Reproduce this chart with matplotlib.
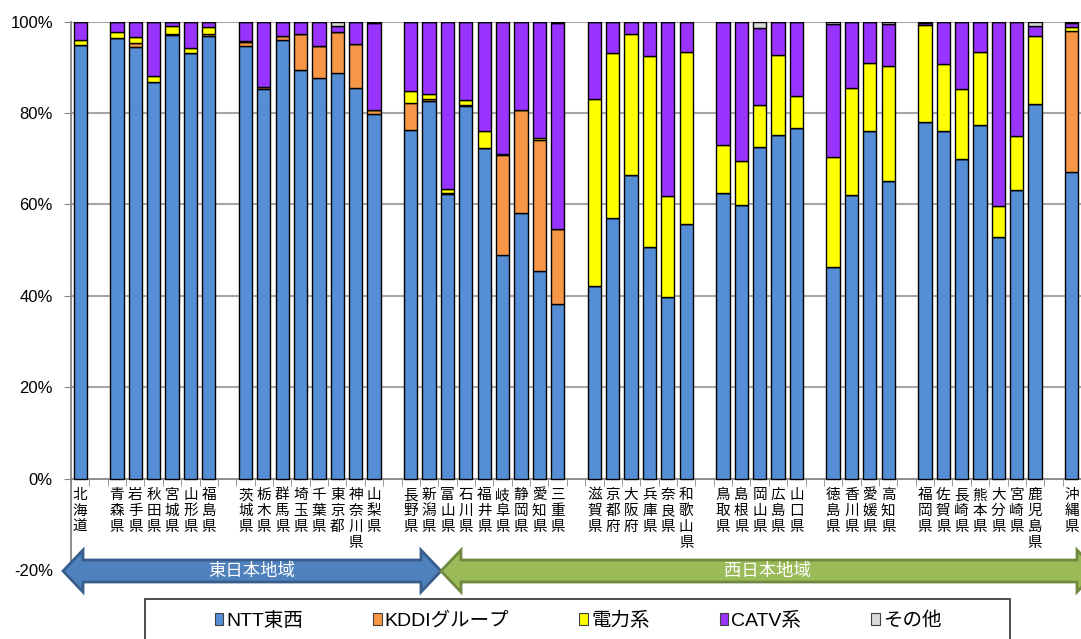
import matplotlib
matplotlib.use("Agg")
import matplotlib.pyplot as plt
import numpy as np
from matplotlib.patches import Patch, Polygon, Rectangle

plt.rcParams['font.family'] = ['Liberation Sans', 'Noto Sans CJK JP', 'DejaVu Sans']

# prefectures, grouped by region (a blank slot separates each group)
groups = [
    ['北海道'],
    ['青森県', '岩手県', '秋田県', '宮城県', '山形県', '福島県'],
    ['茨城県', '栃木県', '群馬県', '埼玉県', '千葉県', '東京都', '神奈川県', '山梨県'],
    ['長野県', '新潟県', '富山県', '石川県', '福井県', '岐阜県', '静岡県', '愛知県', '三重県'],
    ['滋賀県', '京都府', '大阪府', '兵庫県', '奈良県', '和歌山県'],
    ['鳥取県', '島根県', '岡山県', '広島県', '山口県'],
    ['徳島県', '香川県', '愛媛県', '高知県'],
    ['福岡県', '佐賀県', '長崎県', '熊本県', '大分県', '宮崎県', '鹿児島県'],
    ['沖縄県'],
]

series = ['NTT東西', 'KDDIグループ', '電力系', 'CATV系', 'その他']
colors = ['#558ED5', '#F79646', '#FFFF00', '#9933FF', '#D9D9D9']

# share (%) per prefecture, same order as groups
ntt = [94.9,
       96.4, 94.4, 86.7, 97.0, 93.1, 96.9,
       94.7, 85.3, 96.0, 89.4, 87.6, 88.7, 85.4, 79.7,
       76.2, 82.6, 62.4, 81.6, 72.4, 49.0, 58.2, 45.4, 38.2,
       42.1, 57.1, 66.5, 50.6, 39.8, 55.8,
       62.6, 59.8, 72.6, 75.1, 76.8,
       46.3, 62.0, 76.0, 65.1,
       78.0, 76.0, 69.9, 77.4, 52.8, 63.1, 81.9,
       67.2]
kddi = [0.1,
        0, 0.9, 0, 0.2, 0, 0.5,
        0.8, 0.5, 0.9, 8.0, 7.1, 9.1, 9.7, 1.0,
        6.1, 0.5, 0.2, 0.1, 0, 21.8, 22.5, 28.8, 16.4,
        0, 0, 0, 0, 0, 0,
        0, 0, 0, 0, 0,
        0, 0, 0, 0,
        0, 0, 0, 0, 0, 0, 0,
        30.8]
denryoku = [1.1,
            1.3, 1.4, 1.4, 1.9, 1.1, 1.4,
            0.2, 0, 0, 0, 0, 0, 0, 0,
            2.5, 1.1, 0.7, 1.2, 3.7, 0.2, 0, 0.3, 0,
            41.0, 36.0, 30.8, 42.0, 22.1, 37.6,
            10.4, 9.7, 9.1, 17.7, 6.9,
            24.1, 23.4, 14.9, 25.2,
            21.3, 14.8, 15.3, 15.9, 6.9, 11.9, 14.9,
            0.9]
catv = [3.9,
        2.3, 3.3, 11.9, 0.9, 5.8, 1.2,
        4.3, 14.2, 3.1, 2.6, 5.3, 1.3, 4.9, 19.0,
        15.2, 15.8, 36.7, 17.1, 23.9, 29.0, 19.3, 25.5, 45.2,
        16.9, 6.9, 2.7, 7.4, 38.1, 6.6,
        27.0, 30.5, 17.0, 7.2, 16.3,
        29.2, 14.6, 9.1, 9.3,
        0.5, 9.2, 14.8, 6.7, 40.3, 25.0, 2.3,
        0.8]
other = [0,
         0, 0, 0, 0, 0, 0,
         0, 0, 0, 0, 0, 0.9, 0, 0.3,
         0, 0, 0, 0, 0, 0, 0, 0, 0.2,
         0, 0, 0, 0, 0, 0,
         0, 0, 1.3, 0, 0,
         0.4, 0, 0, 0.4,
         0.2, 0, 0, 0, 0, 0, 0.9,
         0.3]

# slot positions: one empty slot between region groups
xs, names = [], []
slot = 0
for g in groups:
    for name in g:
        xs.append(slot)
        names.append(name)
        slot += 1
    slot += 1
nslots = slot - 1

W, H = 1081, 639
fig = plt.figure(figsize=(W / 100, H / 100), dpi=100)
ax = fig.add_axes([71 / W, 1 - 570 / H, 1010 / W, (570 - 21.7) / H])

bottom = np.zeros(len(xs))
for vals, c in zip([ntt, kddi, denryoku, catv, other], colors):
    v = np.array(vals, dtype=float)
    ax.bar(xs, v, 0.72, bottom=bottom, color=c, edgecolor='black', linewidth=1.0, zorder=3)
    bottom += v

ax.set_xlim(-0.5, nslots - 0.5)
ax.set_ylim(-20, 100)
for y in range(20, 101, 20):
    ax.axhline(y, color='#A6A6A6', lw=1.5, zorder=1)

grey = '#868686'
for s in ['top', 'right']:
    ax.spines[s].set_visible(False)
ax.spines['left'].set_color(grey)
ax.spines['left'].set_linewidth(1.3)
ax.spines['bottom'].set_position(('data', 0))
ax.spines['bottom'].set_color(grey)
ax.spines['bottom'].set_linewidth(1.3)

ax.set_yticks(range(-20, 101, 20))
ax.set_yticklabels(['%d%%' % t for t in range(-20, 101, 20)], fontsize=12)
ax.tick_params(axis='y', direction='out', length=5, color=grey, pad=8)

ax.set_xticks(xs)
ax.set_xticklabels(['\n'.join(n) for n in names], fontsize=10.5,
                   family=['Noto Sans CJK JP'], linespacing=1.16, va='top')
ax.set_xticks(np.arange(-0.5, nslots, 1.0), minor=True)
ax.tick_params(axis='x', which='major', length=0, pad=7)
ax.tick_params(axis='x', which='minor', direction='out', length=5, color=grey)


def arrow(x0, x1, yc, body, head, hl, fc, ec):
    # double-headed block arrow, pixel coords (y down)
    pts = [(x0, yc), (x0 + hl, yc - head), (x0 + hl, yc - body),
           (x1 - hl, yc - body), (x1 - hl, yc - head), (x1, yc),
           (x1 - hl, yc + head), (x1 - hl, yc + body),
           (x0 + hl, yc + body), (x0 + hl, yc + head)]
    pts = [(px / W, 1 - py / H) for px, py in pts]
    fig.add_artist(Polygon(pts, closed=True, facecolor=fc, edgecolor=ec, lw=2.0,
                           transform=fig.transFigure, zorder=5))


arrow(63, 441, 571, 11, 21, 20, '#4F81BD', '#385D8A')
arrow(441, 1097, 571, 11, 21, 20, '#9BBB59', '#71893F')
fig.text(252 / W, 1 - 571 / H, '東日本地域', color='white', fontsize=12.5,
         ha='center', va='center', zorder=6)
fig.text(767 / W, 1 - 571 / H, '西日本地域', color='white', fontsize=12.5,
         ha='center', va='center', zorder=6)

# legend in a box that runs off the bottom edge
fig.add_artist(Rectangle((145 / W, -0.05), (1010 - 145) / W, (639 - 599) / H + 0.05,
                         transform=fig.transFigure, fill=False, edgecolor='#404040', lw=1.3))
handles = [Patch(facecolor=c, edgecolor='#404040', lw=0.8) for c in colors]
fig.legend(handles, series, loc='center', bbox_to_anchor=(578 / W, 1 - 621 / H), ncol=5,
           frameon=False, fontsize=14, handlelength=0.45, handleheight=0.6,
           handletextpad=0.15, columnspacing=3.6)

fig.savefig('out.png', dpi=100)
